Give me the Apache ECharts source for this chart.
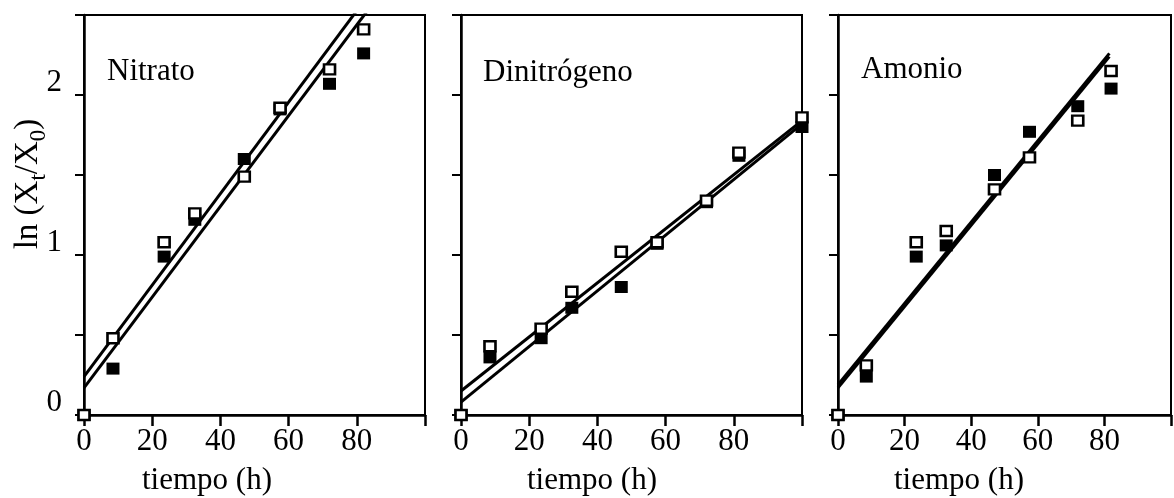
<!DOCTYPE html>
<html>
<head>
<meta charset="utf-8">
<script src="https://cdn.jsdelivr.net/npm/echarts@6/dist/echarts.min.js"></script>
<style>
html,body{margin:0;padding:0;background:#fff;}
#chart{width:1174px;height:498px;}
</style>
</head>
<body>
<div id="chart"></div>
<script>
// ---- Data ----
const panelNames = ['Nitrato', 'Dinitrógeno', 'Amonio'];
const xAxisTitle = 'tiempo (h)';
const xTickLabelValues = [0, 20, 40, 60, 80];
const yTickLabelValues = [0, 1, 2];

const nitratoTimes = [0, 8.5, 23.5, 32.5, 47, 57.5, 72, 82];
const nitratoOpen  = [0, 0.48, 1.08, 1.26, 1.49, 1.92, 2.16, 2.41];
const nitratoFilled = [0, 0.29, 0.99, 1.22, 1.60, 1.91, 2.07, 2.26];
const nitratoLineOpenX = [0, 85];
const nitratoLineOpenY = [0.24, 2.67];
const nitratoLineFilledX = [0, 85];
const nitratoLineFilledY = [0.17, 2.58];

const dinitTimes = [0, 8.5, 23.5, 32.5, 47, 57.5, 72, 81.5, 100];
const dinitOpen  = [0, 0.43, 0.54, 0.77, 1.02, 1.08, 1.34, 1.64, 1.86];
const dinitFilled = [0, 0.36, 0.48, 0.67, 0.80, 1.07, 1.33, 1.62, 1.80];
const dinitLineOpenX = [0, 100];
const dinitLineOpenY = [0.15, 1.84];
const dinitLineFilledX = [0, 100];
const dinitLineFilledY = [0.08, 1.82];

const amonioTimes = [0, 8.5, 23.5, 32.5, 47, 57.5, 72, 82];
const amonioOpen  = [0, 0.31, 1.08, 1.15, 1.41, 1.61, 1.84, 2.15];
const amonioFilled = [0, 0.24, 0.99, 1.06, 1.50, 1.77, 1.93, 2.04];
const amonioLineOpenX = [0, 81.5];
const amonioLineOpenY = [0.19, 2.26];
const amonioLineFilledX = [0, 81.5];
const amonioLineFilledY = [0.17, 2.24];

// ---- Build ----
const FONT = '"Liberation Serif", "Times New Roman", serif';
const zip = (xs, ys) => xs.map((x, i) => [x, ys[i]]);

const panels = [
  {times: nitratoTimes, open: nitratoOpen, filled: nitratoFilled,
   lo: zip(nitratoLineOpenX, nitratoLineOpenY), lf: zip(nitratoLineFilledX, nitratoLineFilledY)},
  {times: dinitTimes, open: dinitOpen, filled: dinitFilled,
   lo: zip(dinitLineOpenX, dinitLineOpenY), lf: zip(dinitLineFilledX, dinitLineFilledY)},
  {times: amonioTimes, open: amonioOpen, filled: amonioFilled,
   lo: zip(amonioLineOpenX, amonioLineOpenY), lf: zip(amonioLineFilledX, amonioLineFilledY)}
];

const gridLefts = [84, 461, 838];
const grids = gridLefts.map(l => ({
  left: l, top: 15, width: 341, height: 400,
  show: true, borderColor: '#000', borderWidth: 2, backgroundColor: 'transparent'
}));

const xAxes = panels.map((p, i) => ({
  type: 'value', gridIndex: i, min: 0, max: 100, interval: 20,
  axisLine: {show: true, onZero: false, lineStyle: {color: '#000', width: 2.5}},
  axisTick: {show: true, inside: false, length: 11, lineStyle: {color: '#000', width: 2.5}},
  axisLabel: {
    show: true, margin: 15, color: '#000', fontFamily: FONT, fontSize: 31, lineHeight: 24,
    formatter: v => xTickLabelValues.includes(v) ? String(v) : ''
  },
  splitLine: {show: false}
}));

const yAxes = panels.map((p, i) => ({
  type: 'value', gridIndex: i, min: 0, max: 2.5, interval: 0.5,
  axisLine: {show: true, onZero: false, lineStyle: {color: '#000', width: 2.5}},
  axisTick: {show: true, inside: false, length: 9, lineStyle: {color: '#000', width: 2}},
  axisLabel: {
    show: i === 0, margin: 22, color: '#000', fontFamily: FONT, fontSize: 31, lineHeight: 24,
    verticalAlign: 'bottom',
    formatter: v => yTickLabelValues.includes(v) ? String(v) : ''
  },
  splitLine: {show: false}
}));

const series = [];
panels.forEach((p, i) => {
  [p.lo, p.lf].forEach(d => series.push({
    type: 'line', xAxisIndex: i, yAxisIndex: i, data: d, showSymbol: false, symbol: 'none',
    clip: true, z: 2, silent: true, animation: false,
    lineStyle: {color: '#000', width: 3}
  }));
  series.push({
    type: 'scatter', xAxisIndex: i, yAxisIndex: i, z: 3, animation: false,
    data: zip(p.times, p.filled), symbol: 'rect', symbolSize: [13, 12],
    itemStyle: {color: '#000', opacity: 1}
  });
  series.push({
    type: 'scatter', xAxisIndex: i, yAxisIndex: i, z: 4, animation: false,
    data: zip(p.times, p.open), symbol: 'rect', symbolSize: [11, 10],
    itemStyle: {color: '#fff', borderColor: '#000', borderWidth: 2.5, opacity: 1}
  });
});

const nameX = [107, 483, 861];
const nameY = [72, 73, 70];
const titleX = [207, 592, 959];
const graphics = [];
panelNames.forEach((n, i) => {
  graphics.push({type: 'text', x: nameX[i], y: nameY[i], z: 10,
    style: {text: n, fontFamily: FONT, fontSize: 31, fill: '#000', align: 'left', verticalAlign: 'middle'}});
  graphics.push({type: 'text', x: titleX[i], y: 481, z: 10,
    style: {text: xAxisTitle, fontFamily: FONT, fontSize: 31, fill: '#000', align: 'center', verticalAlign: 'middle'}});
});
graphics.push({
  type: 'text', x: 28, y: 184, rotation: Math.PI / 2, z: 10,
  style: {
    text: '{n|ln (X}{s|t}{n|/X}{s|0}{n|)}',
    align: 'center', verticalAlign: 'middle', fill: '#000',
    fontFamily: FONT, fontSize: 33,
    rich: {
      n: {fontFamily: FONT, fontSize: 33, lineHeight: 33, verticalAlign: 'top', fill: '#000'},
      s: {fontFamily: FONT, fontSize: 23, lineHeight: 23, verticalAlign: 'top', padding: [16, 0, 0, 0], fill: '#000'}
    }
  }
});

const chart = echarts.init(document.getElementById('chart'), null, {renderer: 'canvas'});
chart.setOption({
  animation: false,
  backgroundColor: '#fff',
  grid: grids,
  xAxis: xAxes,
  yAxis: yAxes,
  series: series,
  graphic: graphics
});
</script>
</body>
</html>
